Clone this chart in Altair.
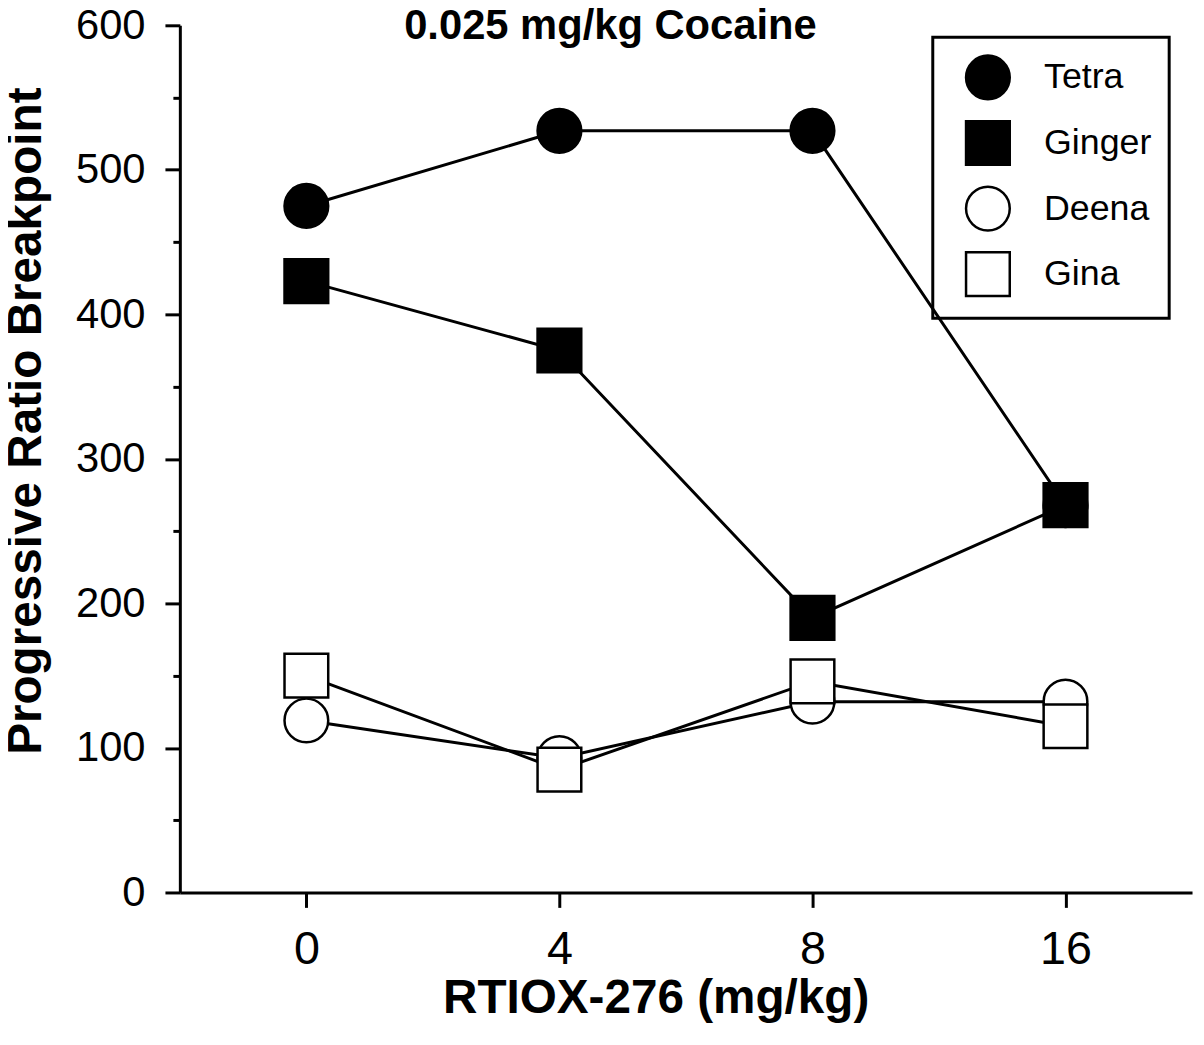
import altair as alt
import pandas as pd

# ---- data ----
doses = [0, 4, 8, 16]
subjects = ["Tetra", "Ginger", "Deena", "Gina"]
tetra = [475, 527, 527, 268]
ginger = [423, 375, 190, 268]
deena = [119, 93, 132, 132]
gina = [150, 85, 146, 115]
shapes = ["circle", "square", "circle", "square"]
fills = ["black", "black", "white", "white"]
strokes = ["black", "black", "black", "black"]
y_major = [0, 100, 200, 300, 400, 500, 600]
y_minor = [50, 150, 250, 350, 450, 550]

rows = []
for s, vals in zip(subjects, [tetra, ginger, deena, gina]):
    for i, (d, v) in enumerate(zip(doses, vals)):
        rows.append({"subject": s, "dose": d, "idx": i, "value": v})
df = pd.DataFrame(rows)

FONT = "Liberation Sans"

yscale = alt.Scale(domain=[0, 600], nice=False, zero=True)
x = alt.X(
    "dose:O",
    scale=alt.Scale(type="point", padding=0.5),
    axis=alt.Axis(
        title="RTIOX-276 (mg/kg)",
        labelAngle=0,
        labelFontSize=47,
        labelPadding=20,
        tickSize=15,
        titleFontSize=48,
        titleFontWeight="bold",
        titleX=479,
        titleY=121,
        titleBaseline="alphabetic",
        grid=False,
    ),
)

y_main = alt.Y(
    "value:Q",
    scale=yscale,
    axis=alt.Axis(
        title="Progressive Ratio Breakpoint",
        values=y_major,
        orient="left",
        labelFontSize=42,
        labelPadding=20,
        tickSize=15,
        titleFontSize=48,
        titleFontWeight="bold",
        titleX=-140,
        titleY=398,
        titleBaseline="alphabetic",
        grid=False,
    ),
)

lines = alt.Chart(df).mark_line(color="black", strokeWidth=3).encode(
    x=x,
    y=y_main,
    detail="subject:N",
    order="idx:Q",
)

legend = alt.Legend(
    title=None,
    symbolStrokeWidth=2.5,
    symbolSize=1936,
)
points = alt.Chart(df).mark_point(
    filled=True, size=1936, strokeWidth=2.5, opacity=1, fillOpacity=1, strokeOpacity=1
).encode(
    x=x,
    y=alt.Y("value:Q", scale=yscale, axis=None),
    shape=alt.Shape("subject:N", scale=alt.Scale(domain=subjects, range=shapes), legend=legend),
    fill=alt.Fill("subject:N", scale=alt.Scale(domain=subjects, range=fills), legend=legend),
    stroke=alt.Stroke("subject:N", scale=alt.Scale(domain=subjects, range=strokes), legend=legend),
)

minor = alt.Chart(df).mark_point(opacity=0).encode(
    x=x,
    y=alt.Y(
        "value:Q",
        scale=yscale,
        axis=alt.Axis(
            values=y_minor,
            orient="left",
            tickSize=7,
            labels=False,
            domain=False,
            title=None,
            grid=False,
        ),
    ),
)

chart = (
    alt.layer(lines, points, minor)
    .resolve_axis(y="independent")
    .properties(
        width=1019,
        height=873,
        autosize=alt.AutoSizeParams(type="none"),
        padding={"left": 173, "top": 14, "right": 4, "bottom": 130},
        title=alt.TitleParams(
            "0.025 mg/kg Cocaine",
            fontSize=42,
            font=FONT,
            fontWeight="bold",
            anchor="middle",
            frame="group",
            dx=-76,
            offset=-77,
            baseline="alphabetic",
            color="black",
        ),
    )
    .configure_view(stroke=None)
    .configure_axis(
        labelFont=FONT,
        titleFont=FONT,
        labelColor="black",
        titleColor="black",
        domainColor="black",
        tickColor="black",
        domainWidth=3,
        tickWidth=3,
    )
    .configure_legend(
        orient="none",
        legendX=758,
        legendY=12,
        strokeColor="black",
        strokeWidth=3,
        padding=17,
        symbolOffset=15,
        symbolSize=1936,
        symbolStrokeWidth=2.5,
        labelFont=FONT,
        labelFontSize=36,
        labelColor="black",
        labelOffset=33,
        rowPadding=11,
    )
)

chart.save("out.html", embed_options={"renderer": "svg", "actions": False})
